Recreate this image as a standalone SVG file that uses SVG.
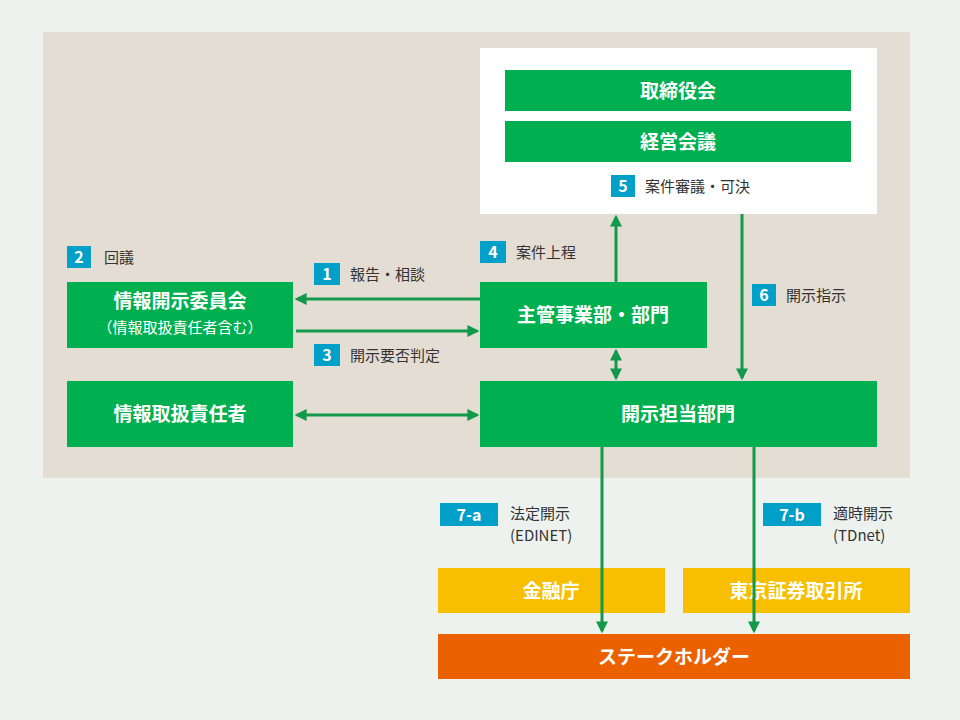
<svg xmlns="http://www.w3.org/2000/svg" width="960" height="720" viewBox="0 0 960 720">
<style>
text{font-family:"Noto Sans CJK JP","Liberation Sans",sans-serif}
.g{fill:#00b050}.t{fill:#fff;font-weight:bold;font-size:19px;text-anchor:middle}
.b{fill:#00a0c8}.n{fill:#fff;font-weight:bold;font-size:16px;text-anchor:middle}
.l{fill:#333;font-size:15px}
.c{stroke:#12994a;stroke-width:3;fill:none}
</style>
<defs>
<marker id="a" viewBox="0 0 10 10" refX="8" refY="5" markerWidth="4" markerHeight="4" orient="auto-start-reverse"><path d="M0,0L10,5L0,10z" fill="#12994a"/></marker>
</defs>
<rect width="960" height="720" fill="#eef2ee"/>
<rect x="43" y="32" width="867" height="446" fill="#e4ddd3"/>
<rect x="480" y="48" width="397" height="166" fill="#fff"/>
<g id="torishimariyakukai"><rect class="g" x="505" y="70" width="346" height="41"/><text class="t" x="678" y="98">取締役会</text></g>
<g id="keieikaigi"><rect class="g" x="505" y="121" width="346" height="41"/><text class="t" x="678" y="149">経営会議</text></g>
<g id="label5"><rect class="b" x="611" y="175" width="24" height="22"/><text class="n" x="623" y="192">5</text><text class="l" x="645" y="192">案件審議・可決</text></g>
<g id="iinkai"><rect class="g" x="67" y="282" width="226" height="66"/><text class="t" x="180" y="308">情報開示委員会</text><text x="180" y="333" fill="#fff" font-size="15" text-anchor="middle">（情報取扱責任者含む）</text></g>
<g id="shukan"><rect class="g" x="480" y="282" width="227" height="66"/><text class="t" x="593" y="322">主管事業部・部門</text></g>
<g id="sekininsha"><rect class="g" x="67" y="381" width="226" height="66"/><text class="t" x="180" y="421">情報取扱責任者</text></g>
<g id="kaiji"><rect class="g" x="480" y="381" width="397" height="66"/><text class="t" x="678" y="421">開示担当部門</text></g>
<g id="kinyucho"><rect fill="#f8be00" x="438" y="568" width="227" height="45"/><text class="t" x="551" y="598">金融庁</text></g>
<g id="tse"><rect fill="#f8be00" x="683" y="568" width="227" height="45"/><text class="t" x="796" y="598">東京証券取引所</text></g>
<g id="stakeholder"><rect fill="#eb6100" x="438" y="634" width="472" height="45"/><text class="t" x="674" y="664">ステークホルダー</text></g>
<g id="labels">
<rect class="b" x="67" y="246" width="24" height="22"/><text class="n" x="79" y="263">2</text><text class="l" x="104" y="263">回議</text>
<rect class="b" x="314" y="263" width="26" height="22"/><text class="n" x="327" y="280">1</text><text class="l" x="350" y="280">報告・相談</text>
<rect class="b" x="314" y="344" width="26" height="22"/><text class="n" x="327" y="361">3</text><text class="l" x="350" y="361">開示要否判定</text>
<rect class="b" x="480" y="241" width="26" height="22"/><text class="n" x="493" y="258">4</text><text class="l" x="516" y="258">案件上程</text>
<rect class="b" x="752" y="284" width="24" height="22"/><text class="n" x="764" y="301">6</text><text class="l" x="786" y="301">開示指示</text>
<rect class="b" x="440" y="503" width="58" height="23"/><text class="n" x="469" y="521">7-a</text><text class="l" x="510" y="519">法定開示</text><text class="l" x="510" y="541">(EDINET)</text>
<rect class="b" x="763" y="503" width="58" height="23"/><text class="n" x="792" y="521">7-b</text><text class="l" x="833" y="519">適時開示</text><text class="l" x="833" y="541">(TDnet)</text>
</g>
<g id="connectors">
<path class="c" d="M480,299H297" marker-end="url(#a)"/>
<path class="c" d="M296,331H477" marker-end="url(#a)"/>
<path class="c" d="M297,415H477" marker-start="url(#a)" marker-end="url(#a)"/>
<path class="c" d="M616,282V217" marker-end="url(#a)"/>
<path class="c" d="M616,351V378" marker-start="url(#a)" marker-end="url(#a)"/>
<path class="c" d="M742,214V378" marker-end="url(#a)"/>
<path class="c" d="M602,447V631" marker-end="url(#a)"/>
<path class="c" d="M754,447V631" marker-end="url(#a)"/>
</g>
</svg>
